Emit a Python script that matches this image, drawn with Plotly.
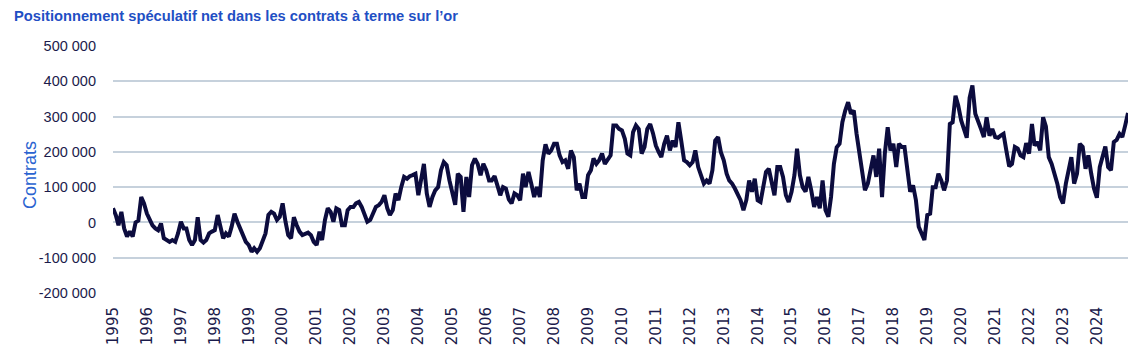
import pandas as pd
import plotly.graph_objects as go

# Net speculative positioning in gold futures (thousands of contracts), monthly readings
net_1995_1999 = [40, 20, -8, 30, -17, -40, -26, -40, 0, 5, 72, 54,
                 25, 7, -8, -17, -22, -3, -45, -50, -55, -50, -55, -31,
                 2, -17, -17, -50, -64, -50, 15, -50, -57, -50, -31, -26,
                 -22, 21, -17, -45, -31, -40, -12, 25, 2, -17, -31, -55,
                 -64, -83, -73, -83, -73, -55, -31, 21, 30, 25, 7, 16]
net_2000_2004 = [54, 2, -36, -45, 15, -8, -26, -36, -31, -29, -36, -55,
                 -64, -26, -50, 7, 40, 30, 2, 40, 35, -8, -8, 35,
                 44, 44, 54, 58, 44, 25, 2, 7, 30, 44, 49, 58,
                 77, 40, 21, 35, 82, 63, 100, 129, 124, 131, 134, 138,
                 77, 129, 166, 82, 44, 72, 91, 100, 148, 171, 162, 119]
net_2005_2009 = [87, 50, 138, 129, 30, 129, 72, 162, 181, 166, 134, 166,
                 148, 119, 119, 131, 105, 77, 100, 96, 65, 54, 82, 77,
                 63, 138, 100, 143, 110, 72, 100, 72, 176, 221, 195, 204,
                 223, 223, 190, 171, 176, 152, 204, 185, 91, 110, 72, 72,
                 134, 148, 181, 166, 176, 195, 166, 176, 190, 275, 275, 265]
net_2010_2014 = [261, 237, 195, 190, 256, 275, 265, 195, 214, 265, 279, 253,
                 218, 199, 185, 223, 246, 204, 232, 214, 284, 232, 176, 171,
                 162, 171, 204, 157, 134, 110, 119, 110, 148, 232, 242, 199,
                 176, 138, 119, 110, 96, 82, 63, 35, 63, 119, 87, 124,
                 63, 58, 96, 143, 152, 110, 77, 157, 157, 129, 77, 58]
net_2015_2019 = [87, 134, 209, 134, 100, 87, 129, 91, 44, 72, 40, 119,
                 35, 16, 72, 166, 213, 223, 284, 317, 341, 308, 317, 251,
                 195, 138, 91, 110, 157, 190, 129, 209, 72, 195, 270, 204,
                 223, 157, 223, 214, 214, 152, 87, 105, 63, -12, -31, -50,
                 21, 25, 100, 100, 138, 119, 91, 119, 279, 284, 359, 331]
net_2020_2024 = [289, 265, 240, 353, 388, 308, 289, 265, 242, 298, 246, 265,
                 242, 240, 246, 251, 204, 159, 166, 214, 209, 190, 185, 225,
                 195, 279, 218, 228, 204, 298, 272, 185, 166, 140, 110, 72,
                 54, 110, 148, 185, 110, 138, 223, 214, 152, 190, 138, 96,
                 70, 157, 185, 215, 157, 148, 228, 234, 251, 242, 275, 310]

year_labels = [str(y) for y in range(1995, 2025)]
y_tick_values = [-200000, -100000, 0, 100000, 200000, 300000, 400000, 500000]
y_tick_labels = ["-200 000", "-100 000", "0", "100 000", "200 000", "300 000", "400 000", "500 000"]

values_k = net_1995_1999 + net_2000_2004 + net_2005_2009 + net_2010_2014 + net_2015_2019 + net_2020_2024
values = [v * 1000 for v in values_k]
dates = pd.date_range("1995-01-01", periods=len(values), freq="MS")

NAVY = "#0c0c3e"
BLUE = "#1f4fc4"
SANS = "Liberation Sans, Arial, sans-serif"

fig = go.Figure()
fig.add_trace(go.Scatter(x=dates, y=values, mode="lines",
                         line=dict(color=NAVY, width=4), hoverinfo="skip"))

fig.update_layout(
    width=1141, height=363,
    margin=dict(l=113, r=13, t=46, b=70),
    paper_bgcolor="white", plot_bgcolor="white",
    showlegend=False,
    title=dict(text="<b>Positionnement spéculatif net dans les contrats à terme sur l’or</b>",
               x=14 / 1141, xanchor="left", y=1 - 11 / 363, yanchor="top",
               font=dict(family=SANS, size=14.7, color=BLUE)),
)
fig.update_xaxes(
    type="date", range=[dates[0], dates[-1]],
    tickmode="array", tickvals=[pd.Timestamp(f"{y}-01-01") for y in year_labels], ticktext=year_labels,
    tickangle=-90, tickfont=dict(family="DejaVu Sans", size=15, color="#1b1b4b"),
    showgrid=False, zeroline=False, showline=False, ticks="", ticklabelstandoff=10,
)
fig.update_yaxes(
    range=[-200000, 500000], tickmode="array", tickvals=y_tick_values, ticktext=y_tick_labels,
    tickfont=dict(family=SANS, size=14.5, color="#1b1b4b"),
    showgrid=True, gridcolor="#c6d1dc", gridwidth=1.5, zeroline=False, showline=False,
    ticks="", ticklabelstandoff=16,
)
fig.add_annotation(text="Contrats", textangle=-90, xref="paper", yref="paper",
                   x=(30 - 113) / 1015, y=(293 - 175) / 247, xanchor="center", yanchor="middle",
                   showarrow=False,
                   font=dict(family=SANS, size=18, color="#2a63d0"))

fig.write_html("out.html", config={"displayModeBar": False},
               post_script="document.body.style.margin='0';")
